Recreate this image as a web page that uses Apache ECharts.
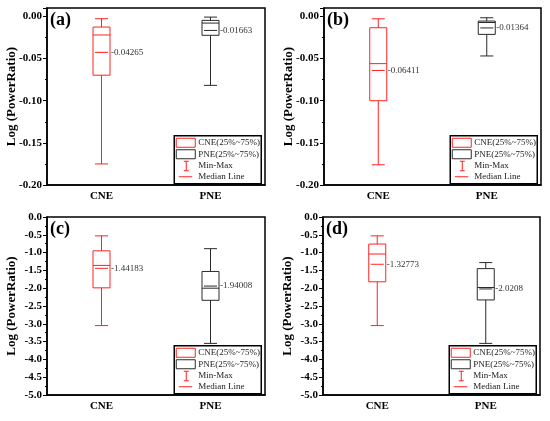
<!DOCTYPE html>
<html>
<head>
<meta charset="utf-8">
<script src="https://cdn.jsdelivr.net/npm/echarts@6/dist/echarts.min.js"></script>
<style>
html,body{margin:0;padding:0;background:#fff}
#main{width:550px;height:421px}
</style>
</head>
<body>
<div id="main"></div>
<script>
// categories and panel texts
var categories = ['CNE', 'PNE'];
var panelNames = ['(a)', '(b)', '(c)', '(d)'];
var legendNames = ['CNE(25%~75%)', 'PNE(25%~75%)', 'Min-Max', 'Median Line'];

// box values: [min, Q1, median, Q3, max] for CNE, PNE
var boxA = [[-0.175, -0.0697, -0.022, -0.0126, -0.0027], [-0.0818, -0.0224, -0.0079, -0.0047, -0.0008]];
var meanA = [-0.04265, -0.01663];
var boxB = [[-0.176, -0.100, -0.056, -0.0134, -0.0028], [-0.0469, -0.0213, -0.0072, -0.0055, -0.0016]];
var meanB = [-0.06411, -0.01364];
var boxC = [[-3.05, -1.99, -1.36, -0.95, -0.53], [-3.55, -2.34, -2.0, -1.53, -0.89]];
var meanC = [-1.44183, -1.94008];
var boxD = [[-3.05, -1.82, -1.04, -0.76, -0.53], [-3.55, -2.33, -1.98, -1.45, -1.28]];
var meanD = [-1.32773, -2.0208];

// y axis ticks
var yMinVal = [-0.2, -0.2, -5, -5];
var yMaxVal = [0.01, 0.01, 0, 0];
var yStep = [0.05, 0.05, 0.5, 0.5];
var yDigits = [2, 2, 1, 1];

var boxes = [boxA, boxB, boxC, boxD];
var means = [meanA, meanB, meanC, meanD];

var RED = '#ff2222';
var DARK = '#2a2a2a';
var SERIF = '"Liberation Serif", "Times New Roman", serif';

var grids = [
  {left: 47, top: 8, width: 218, height: 177},
  {left: 324, top: 8, width: 217, height: 177},
  {left: 47, top: 217, width: 218, height: 178},
  {left: 323, top: 217, width: 217, height: 178}
];

function renderBox(params, api) {
  var cat = api.value(0);
  var color = cat === 0 ? RED : DARK;
  var x = api.coord([cat, 0])[0];
  var yMin = api.coord([cat, api.value(1)])[1];
  var yQ1 = api.coord([cat, api.value(2)])[1];
  var yMed = api.coord([cat, api.value(3)])[1];
  var yQ3 = api.coord([cat, api.value(4)])[1];
  var yMax = api.coord([cat, api.value(5)])[1];
  var mean = api.value(6);
  var yMean = api.coord([cat, mean])[1];
  var bw = 17, cw = 13;
  var st = {stroke: color, lineWidth: 1, fill: null};
  return {
    type: 'group',
    children: [
      {type: 'line', shape: {x1: x, y1: yMax, x2: x, y2: yQ3}, style: st},
      {type: 'line', shape: {x1: x, y1: yQ1, x2: x, y2: yMin}, style: st},
      {type: 'line', shape: {x1: x - cw / 2, y1: yMax, x2: x + cw / 2, y2: yMax}, style: st},
      {type: 'line', shape: {x1: x - cw / 2, y1: yMin, x2: x + cw / 2, y2: yMin}, style: st},
      {type: 'rect', shape: {x: x - bw / 2, y: yQ3, width: bw, height: yQ1 - yQ3}, style: {stroke: color, lineWidth: 1, fill: 'rgba(0,0,0,0)'}},
      {type: 'line', shape: {x1: x - bw / 2, y1: yMed, x2: x + bw / 2, y2: yMed}, style: st},
      {type: 'line', shape: {x1: x - bw / 2 + 2, y1: yMean, x2: x + bw / 2 - 2, y2: yMean}, style: st},
      {type: 'text', x: x + bw / 2 + 1, y: yMean, style: {text: String(mean), fill: '#333', fontSize: 9, fontFamily: SERIF, align: 'left', verticalAlign: 'middle'}}
    ]
  };
}

function legendGraphic(g) {
  var w = 87, h = 48;
  var ln = {stroke: RED, lineWidth: 1};
  var tx = function (t, y) {
    return {type: 'text', x: 24, y: y, style: {text: t, fill: '#222', fontSize: 9, fontFamily: SERIF, align: 'left', verticalAlign: 'middle'}};
  };
  return {
    type: 'group',
    left: g.left + g.width - 4.5 - w,
    top: g.top + g.height - 2 - h,
    children: [
      {type: 'rect', shape: {x: 0, y: 0, width: w, height: h}, style: {stroke: '#000', lineWidth: 1.5, fill: '#fff'}},
      {type: 'rect', shape: {x: 2, y: 2.5, width: 19, height: 9}, style: {stroke: RED, lineWidth: 1, fill: '#fff'}},
      tx(legendNames[0], 7),
      {type: 'rect', shape: {x: 2, y: 14, width: 19, height: 9}, style: {stroke: DARK, lineWidth: 1, fill: '#fff'}},
      tx(legendNames[1], 18.5),
      {type: 'line', shape: {x1: 9.5, y1: 25.5, x2: 14.5, y2: 25.5}, style: ln},
      {type: 'line', shape: {x1: 12, y1: 25.5, x2: 12, y2: 35}, style: ln},
      {type: 'line', shape: {x1: 9.5, y1: 35, x2: 14.5, y2: 35}, style: ln},
      tx(legendNames[2], 29.5),
      {type: 'line', shape: {x1: 4.5, y1: 41, x2: 18, y2: 41}, style: ln},
      tx(legendNames[3], 40.5)
    ]
  };
}

var option = {
  animation: false,
  backgroundColor: '#fff',
  grid: [], xAxis: [], yAxis: [], series: [], graphic: []
};

grids.forEach(function (g, k) {
  option.grid.push({left: g.left, top: g.top, width: g.width, height: g.height, show: true, borderColor: '#000', borderWidth: 1.5, backgroundColor: '#fff'});
  option.xAxis.push({
    type: 'category', gridIndex: k, data: categories, boundaryGap: true, position: 'bottom',
    axisLine: {onZero: false, lineStyle: {color: '#000', width: 1.5}},
    axisTick: {alignWithLabel: true, length: 3, lineStyle: {color: '#000'}},
    axisLabel: {color: '#000', fontWeight: 'bold', fontSize: 11, fontFamily: SERIF, margin: 6},
    splitLine: {show: false}
  });
  var d = yDigits[k];
  option.yAxis.push({
    type: 'value', gridIndex: k, min: yMinVal[k], max: yMaxVal[k], interval: yStep[k],
    name: 'Log (PowerRatio)', nameLocation: 'middle', nameGap: 29, nameRotate: 90, nameMoveOverlap: false,
    nameTextStyle: {color: '#000', fontWeight: 'bold', fontSize: 13, fontFamily: SERIF},
    axisLine: {show: true, onZero: false, lineStyle: {color: '#000', width: 1.5}},
    axisTick: {show: true, length: 4, lineStyle: {color: '#000'}},
    minorTick: {show: true, splitNumber: 2, length: 2, lineStyle: {color: '#000'}},
    axisLabel: {color: '#000', fontWeight: 'bold', fontSize: 11, fontFamily: SERIF, margin: 5,
      showMaxLabel: yMaxVal[k] === 0, formatter: function (v) { return (Math.abs(v) < 1e-9 ? 0 : v).toFixed(d); }},
    splitLine: {show: false}
  });
  var data = boxes[k].map(function (b, i) {
    return [i, b[0], b[1], b[2], b[3], b[4], means[k][i]];
  });
  option.series.push({
    type: 'custom', xAxisIndex: k, yAxisIndex: k, silent: true,
    renderItem: renderBox, data: data, encode: {x: 0, y: [1, 2, 3, 4, 5, 6]}
  });
  option.graphic.push({
    type: 'text', left: g.left + 3, top: g.top + 3,
    style: {text: panelNames[k], fill: '#000', fontSize: 18, fontWeight: 'bold', fontFamily: SERIF}
  });
  option.graphic.push(legendGraphic(g));
});

var myChart = echarts.init(document.getElementById('main'));
myChart.setOption(option);
</script>
</body>
</html>
